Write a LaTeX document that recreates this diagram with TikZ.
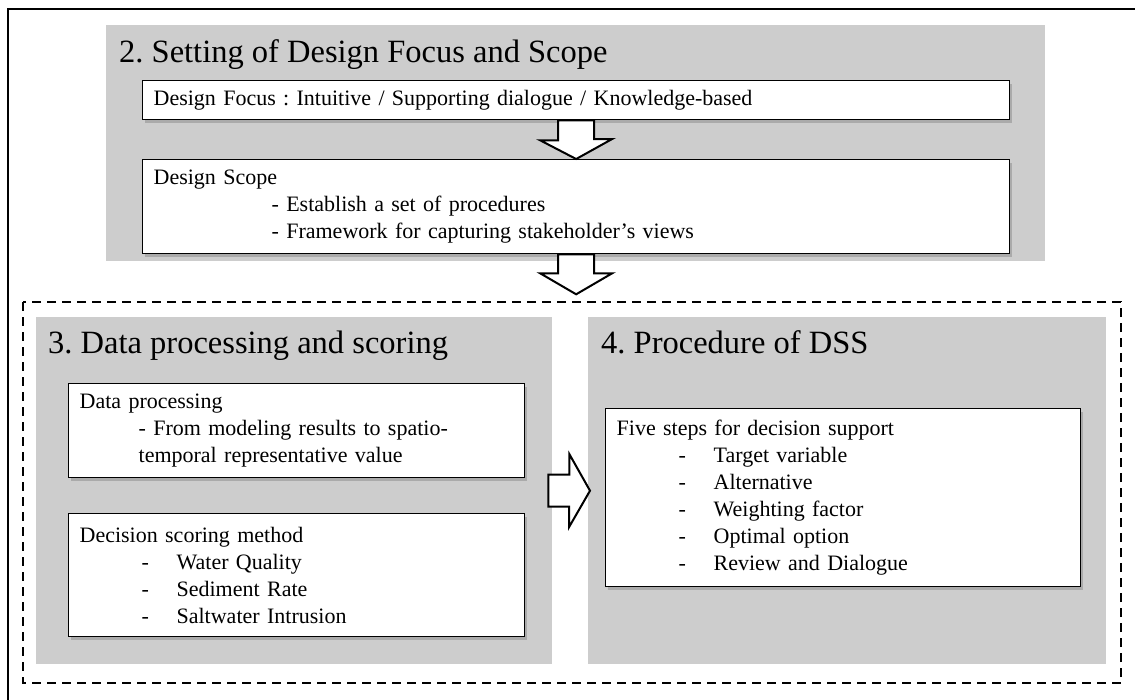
\documentclass[tikz,border=0pt]{standalone}
\usepackage{fontspec}
\setmainfont{Liberation Serif}
\usetikzlibrary{calc,shadows}
\definecolor{panelgray}{RGB}{205,205,205}
\newcommand{\dashitem}[1]{\hspace*{62pt}\makebox[35pt][l]{-}#1}
\frenchspacing

\begin{document}
\begin{tikzpicture}[x=1pt,y=-1pt,
  panel/.style={fill=panelgray,anchor=north west,inner sep=0pt},
  box/.style={draw=black,line width=1.3pt,fill=white,anchor=north west,align=left,
    inner xsep=11pt,inner ysep=0pt,font=\fontsize{22}{27}\selectfont,
    drop shadow={shadow xshift=2pt,shadow yshift=-3pt,opacity=0.45}},
  heading/.style={anchor=base west,inner sep=0pt,font=\fontsize{32.5}{36}\selectfont},
  blockarrow/.style={draw=black,line width=2pt,fill=white,line join=miter},
  dashframe/.style={draw=black,line width=2pt,dash pattern=on 9pt off 6pt}]
\useasboundingbox (0,0) rectangle (1135,699);
\clip (0,0) rectangle (1135,699);
\draw[line width=2pt] (8,9) rectangle (1150,715);

\node[panel,minimum width=939pt,minimum height=236pt] (scopepanel) at (106,25) {};
\node[heading] (title2) at (119,62) {2. Setting of Design Focus and Scope};
\node[box,minimum width=867pt,minimum height=39pt,text width=845pt] (focus) at (142,80)
  {Design Focus : Intuitive / Supporting dialogue / Knowledge-based};
\node[box,minimum width=867pt,minimum height=94pt,text width=845pt] (scope) at (142,159)
  {Design Scope\\
   \hspace*{118pt}- Establish a set of procedures\\
   \hspace*{118pt}- Framework for capturing stakeholder’s views};

\draw[blockarrow] ($(focus.south)+(-18,0)$) -- ++(0,20) -- ++(-18,0) -- (scope.north)
  -- ++(36,-20) -- ++(-18,0) -- ($(focus.south)+(18,0)$) -- cycle;
\coordinate (gap) at ($(scope.south)+(0,40)$);
\draw[blockarrow] ($(scope.south)+(-18,0)$) -- ++(0,19) -- ++(-18,0) -- (gap)
  -- ++(36,-21) -- ++(-18,0) -- ($(scope.south)+(18,0)$) -- cycle;

\draw[dashframe] (23,302) rectangle (1121,683);

\node[panel,minimum width=516pt,minimum height=347pt] (datapanel) at (36,317) {};
\node[heading] (title3) at (48,353) {3. Data processing and scoring};
\node[box,minimum width=456pt,minimum height=94pt,text width=434pt] (dataproc) at (68,383)
  {Data processing\\
   \hspace*{59pt}- From modeling results to spatio-\\
   \hspace*{59pt}temporal representative value};
\node[box,minimum width=456pt,minimum height=123pt,text width=434pt] (scoring) at (68,513)
  {Decision scoring method\\
   \dashitem{Water Quality}\\
   \dashitem{Sediment Rate}\\
   \dashitem{Saltwater Intrusion}};

\node[panel,minimum width=518pt,minimum height=347pt] (dsspanel) at (588,317) {};
\node[heading] (title4) at (601,353) {4. Procedure of DSS};
\node[box,minimum width=475pt,minimum height=178pt,text width=453pt] (fivesteps) at (605,408)
  {Five steps for decision support\\
   \dashitem{Target variable}\\
   \dashitem{Alternative}\\
   \dashitem{Weighting factor}\\
   \dashitem{Optimal option}\\
   \dashitem{Review and Dialogue}};

\draw[blockarrow] ($(datapanel.east)+(-4,-16)$) -- ++(21,0) -- ++(0,-20.5)
  -- ($(dsspanel.west)+(2,0)$) -- ++(-21,36.5) -- ++(0,-20.5)
  -- ($(datapanel.east)+(-4,16)$) -- cycle;
\end{tikzpicture}
\end{document}
